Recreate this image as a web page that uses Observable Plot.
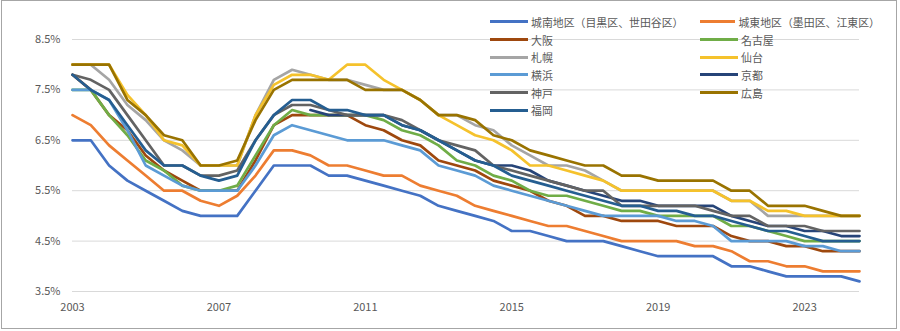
<!DOCTYPE html>
<html><head><meta charset="utf-8">
<script src="https://cdn.jsdelivr.net/npm/d3@7"></script>
<script src="https://cdn.jsdelivr.net/npm/@observablehq/plot@0.6"></script>
<style>
body{margin:0;background:#fff;}
#wrap{position:relative;width:900px;height:331px;font-family:"Noto Sans CJK JP","Noto Sans",sans-serif;overflow:hidden;}
#frame{position:absolute;left:1px;top:0px;width:894px;height:327px;border:1px solid #a6a6a6;pointer-events:none;}
#legend{position:absolute;left:490px;top:13px;display:grid;grid-template-columns:210px 180px;grid-auto-rows:17.7px;font-size:10.9px;color:#595959;}
.item{display:flex;align-items:center;white-space:nowrap;}
.sw{width:38px;height:3px;margin-right:3px;}
</style></head>
<body><div id="wrap"><div id="chart"></div><div id="legend"></div><div id="frame"></div></div>
<script>
// Semi-annual observations starting 2003 (first half), 44 points
const startYear = 2003;
const xTicks = [2003, 2007, 2011, 2015, 2019, 2023];
const yTicks = [3.5, 4.5, 5.5, 6.5, 7.5, 8.5];

const names = ["城南地区（目黒区、世田谷区）","城東地区（墨田区、江東区）","大阪","名古屋","札幌","仙台","横浜","京都","神戸","広島","福岡"];
const colors = ["#4472C4","#ED7D31","#9E480E","#70AD47","#A5A5A5","#F5C22C","#5B9BD5","#264478","#636363","#997300","#255E91"];

const jonan   = [6.5,6.5,6.0,5.7,5.5,5.3,5.1,5.0,5.0,5.0,5.5,6.0,6.0,6.0,5.8,5.8,5.7,5.6,5.5,5.4,5.2,5.1,5.0,4.9,4.7,4.7,4.6,4.5,4.5,4.5,4.4,4.3,4.2,4.2,4.2,4.2,4.0,4.0,3.9,3.8,3.8,3.8,3.8,3.7];
const joto    = [7.0,6.8,6.4,6.1,5.8,5.5,5.5,5.3,5.2,5.4,5.8,6.3,6.3,6.2,6.0,6.0,5.9,5.8,5.8,5.6,5.5,5.4,5.2,5.1,5.0,4.9,4.8,4.8,4.7,4.6,4.5,4.5,4.5,4.5,4.4,4.4,4.3,4.1,4.1,4.0,4.0,3.9,3.9,3.9];
const osaka   = [7.8,7.5,7.0,6.7,6.2,5.9,5.7,5.5,5.5,5.5,6.1,6.8,7.0,7.0,7.0,7.0,6.8,6.7,6.5,6.4,6.1,6.0,5.9,5.7,5.6,5.5,5.3,5.2,5.0,5.0,4.9,4.9,4.9,4.8,4.8,4.8,4.6,4.5,4.5,4.4,4.4,4.3,4.3,4.3];
const nagoya  = [7.5,7.5,7.0,6.6,6.1,5.9,5.6,5.5,5.5,5.6,6.2,6.8,7.1,7.0,7.0,7.0,7.0,6.9,6.7,6.6,6.4,6.1,6.0,5.8,5.7,5.5,5.4,5.4,5.3,5.2,5.1,5.1,5.0,5.0,5.0,5.0,4.8,4.8,4.7,4.6,4.5,4.5,4.5,4.5];
const sapporo = [8.0,8.0,7.7,7.2,6.9,6.5,6.3,6.0,6.0,6.0,7.0,7.7,7.9,7.8,7.7,7.7,7.6,7.5,7.5,7.3,7.0,7.0,6.8,6.7,6.4,6.2,6.0,6.0,5.9,5.7,5.5,5.5,5.5,5.5,5.5,5.5,5.3,5.3,5.0,5.0,5.0,5.0,5.0,5.0];
const sendai  = [8.0,8.0,8.0,7.4,7.0,6.5,6.4,6.0,6.0,6.0,7.0,7.6,7.8,7.8,7.7,8.0,8.0,7.7,7.5,7.3,7.0,6.8,6.6,6.5,6.3,6.0,6.0,5.9,5.8,5.7,5.5,5.5,5.5,5.5,5.5,5.5,5.3,5.3,5.1,5.1,5.0,5.0,5.0,5.0];
const yokohama= [7.5,7.5,7.3,6.7,6.0,5.8,5.6,5.5,5.5,5.5,6.0,6.6,6.8,6.7,6.6,6.5,6.5,6.5,6.4,6.3,6.0,5.9,5.8,5.6,5.5,5.4,5.3,5.2,5.1,5.0,5.0,5.0,5.0,4.9,4.9,4.8,4.5,4.5,4.5,4.5,4.4,4.4,4.3,4.3];
const kyoto   = [null,null,null,null,null,null,null,null,null,null,null,null,null,7.1,7.0,7.0,7.0,7.0,6.8,6.7,6.5,6.3,6.1,6.0,6.0,5.9,5.7,5.6,5.5,5.4,5.3,5.3,5.2,5.2,5.2,5.2,5.0,4.9,4.8,4.8,4.7,4.7,4.6,4.6];
const kobe    = [7.8,7.7,7.5,7.0,6.5,6.0,6.0,5.8,5.8,5.9,6.5,7.0,7.2,7.2,7.1,7.0,7.0,7.0,6.9,6.7,6.5,6.4,6.3,6.0,5.9,5.8,5.7,5.6,5.5,5.5,5.2,5.2,5.2,5.2,5.2,5.1,5.0,5.0,4.8,4.8,4.8,4.7,4.7,4.7];
const hiroshima=[8.0,8.0,8.0,7.3,7.0,6.6,6.5,6.0,6.0,6.1,6.9,7.5,7.7,7.7,7.7,7.7,7.5,7.5,7.5,7.3,7.0,7.0,6.9,6.6,6.5,6.3,6.2,6.1,6.0,6.0,5.8,5.8,5.7,5.7,5.7,5.7,5.5,5.5,5.2,5.2,5.2,5.1,5.0,5.0];
const fukuoka = [7.8,7.5,7.3,6.8,6.3,6.0,6.0,5.8,5.7,5.8,6.5,7.0,7.3,7.3,7.1,7.1,7.0,7.0,6.8,6.7,6.5,6.3,6.1,6.0,5.8,5.7,5.6,5.5,5.4,5.3,5.2,5.2,5.1,5.1,5.0,5.0,4.9,4.8,4.7,4.7,4.6,4.5,4.5,4.5];

const seriesValues = [jonan, joto, osaka, nagoya, sapporo, sendai, yokohama, kyoto, kobe, hiroshima, fukuoka];

const data = [];
seriesValues.forEach((vals, k) => vals.forEach((v, i) => {
  if (v != null) data.push({name: names[k], t: startYear + i / 2, v});
}));

const font = '"Noto Sans CJK JP","Noto Sans",sans-serif';
const chart = Plot.plot({
  width: 900, height: 331,
  marginLeft: 72, marginRight: 41, marginTop: 39, marginBottom: 40,
  style: {fontFamily: font, fontSize: "11px", color: "#595959", background: "transparent"},
  x: {domain: [2003, 2024.5], label: null},
  y: {domain: [3.5, 8.5], label: null},
  color: {domain: names, range: colors},
  marks: [
    Plot.gridY(yTicks, {stroke: "#d9d9d9", strokeOpacity: 1, strokeWidth: 1}),
    Plot.axisY(yTicks, {tickSize: 0, tickPadding: 12, tickFormat: d => d.toFixed(1) + "%", label: null, fill: "#595959"}),
    Plot.axisX(xTicks, {tickSize: 0, tickPadding: 12, tickFormat: d => String(d), label: null, fill: "#595959"}),
    Plot.line(data, {x: "t", y: "v", z: "name", stroke: "name", strokeWidth: 2.7, strokeLinejoin: "round"})
  ]
});
document.getElementById("chart").appendChild(chart);

// legend (row-major, two columns, same order as series)
const lg = document.getElementById("legend");
names.forEach((n, k) => {
  const it = document.createElement("div");
  it.className = "item";
  const sw = document.createElement("span");
  sw.className = "sw";
  sw.style.background = colors[k];
  const tx = document.createElement("span");
  tx.textContent = n;
  it.appendChild(sw); it.appendChild(tx);
  lg.appendChild(it);
});
</script></body></html>
